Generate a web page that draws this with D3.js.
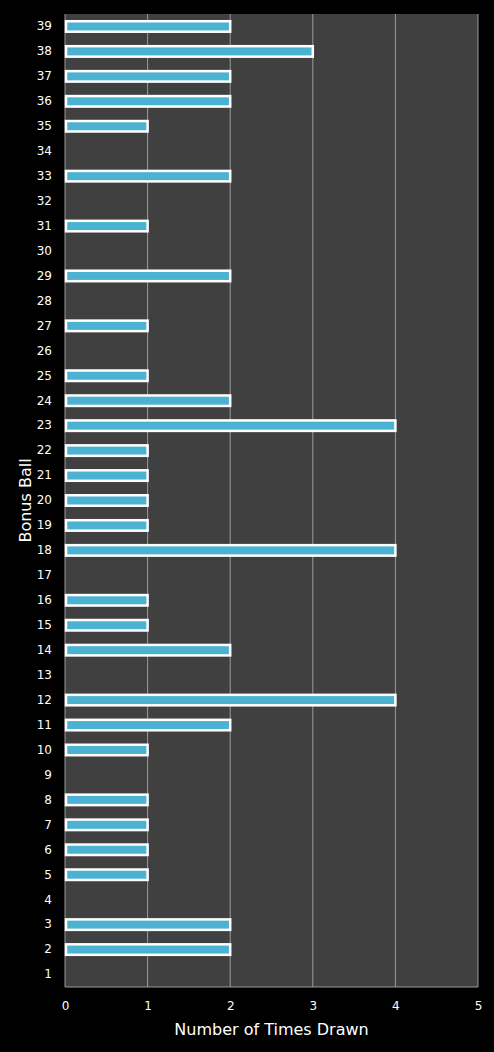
<!DOCTYPE html>
<html>
<head>
<meta charset="utf-8">
<script src="https://cdn.jsdelivr.net/npm/d3@7"></script>
<style>
body { margin: 0; background: #000; }
text { font-family: "DejaVu Sans", sans-serif; fill: #fff; }
</style>
</head>
<body>
<svg width="494" height="1052"></svg>
<script>
/* Bonus ball numbers and how often each was drawn */
var balls = d3.range(1, 40);
var counts = [0,2,2,0,1,1,1,1,0,1,2,4,0,2,1,1,0,4,1,1,1,1,4,2,1,0,1,0,2,0,1,0,2,0,1,2,2,3,2];
var xTicks = [0, 1, 2, 3, 4, 5];

var svg = d3.select("svg"),
    margin = {top: 14, right: 16, bottom: 65, left: 65},
    width = +svg.attr("width") - margin.left - margin.right,
    height = +svg.attr("height") - margin.top - margin.bottom,
    g = svg.append("g").attr("transform", "translate(" + margin.left + "," + margin.top + ")");

var x = d3.scaleLinear().domain([0, 5]).range([0, width]);
var y = d3.scaleBand().domain(balls.slice().reverse()).range([0, height]).paddingInner(0.5).paddingOuter(0.25);

/* plot background */
g.append("rect").attr("width", width).attr("height", height).attr("fill", "#404040");

/* vertical gridlines */
g.selectAll(".grid").data(xTicks.slice(1)).enter().append("line")
    .attr("x1", x).attr("x2", x).attr("y1", 0).attr("y2", height)
    .attr("stroke", "#9a9a9a").attr("stroke-width", 1);

g.append("line").attr("x1", 0).attr("x2", width).attr("y1", height).attr("y2", height)
    .attr("stroke", "#9a9a9a");
g.append("line").attr("x1", 0).attr("x2", 0).attr("y1", 0).attr("y2", height)
    .attr("stroke", "#9a9a9a");

/* bars */
g.selectAll(".bar").data(balls.filter(function(d, i) { return counts[i] > 0; })).enter().append("rect")
    .attr("x", x(0) + 1)
    .attr("y", function(d) { return y(d) + 1; })
    .attr("width", function(d) { return x(counts[d - 1]) - x(0) - 1; })
    .attr("height", y.bandwidth() - 2)
    .attr("fill", "#4bb3d1")
    .attr("stroke", "#fff").attr("stroke-width", 2.5);

/* axes */
var xa = g.append("g").attr("transform", "translate(0," + height + ")")
    .call(d3.axisBottom(x).tickValues(xTicks).tickFormat(d3.format("d")).tickSize(0).tickPadding(14));
xa.select(".domain").remove();
xa.selectAll("text").attr("font-size", 12);

var ya = g.append("g").call(d3.axisLeft(y).tickSize(0).tickPadding(13));
ya.select(".domain").remove();
ya.selectAll("text").attr("font-size", 12);

svg.append("text").attr("x", margin.left + width / 2).attr("y", 1035)
    .attr("text-anchor", "middle").attr("font-size", 16).text("Number of Times Drawn");

svg.append("text").attr("transform", "translate(31," + (margin.top + height / 2) + ") rotate(-90)")
    .attr("text-anchor", "middle").attr("font-size", 16).text("Bonus Ball");
</script>
</body>
</html>
